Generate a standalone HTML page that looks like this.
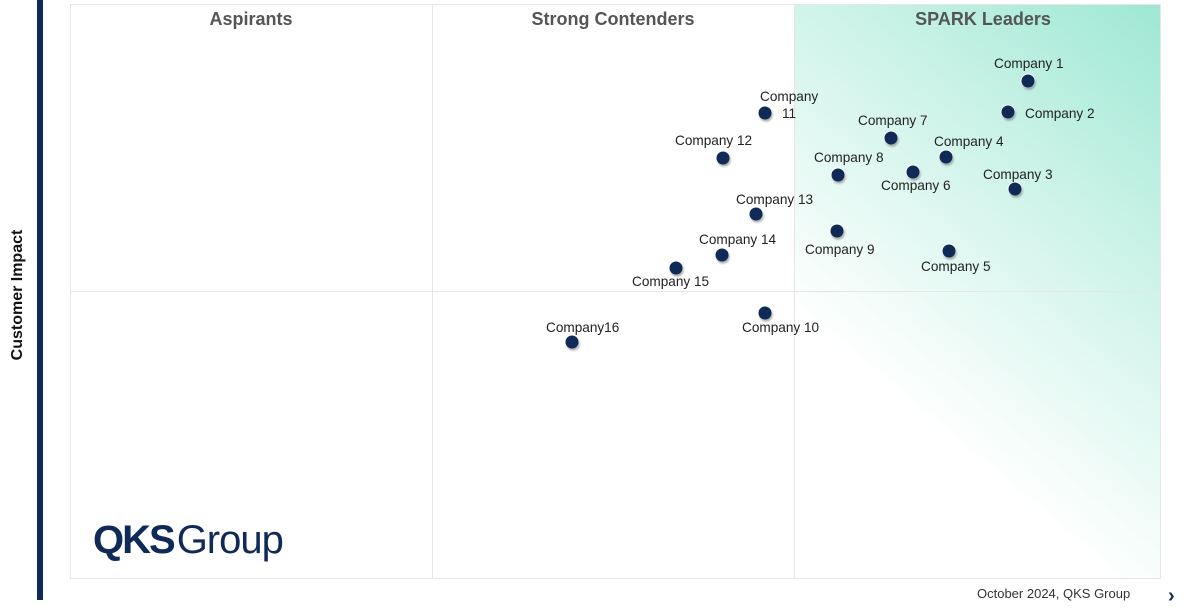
<!DOCTYPE html><html><head><style>
body{margin:0;width:1200px;height:600px;background:#fff;position:relative;overflow:hidden;font-family:"Liberation Sans",sans-serif}
.a{position:absolute}
.q{font-weight:bold;font-size:18px;color:#555;text-align:center;top:9px}
.d{position:absolute;width:13px;height:13px;border-radius:50%;background:#0f2a57;box-shadow:1px 2px 2px rgba(0,0,0,.35),0 0 0 1px #fff;transform:translate(-50%,-50%)}
.l{position:absolute;font-size:13.6px;color:#222;white-space:nowrap}
</style></head><body>
<div class="a" style="left:37px;top:0;width:6px;height:600px;background:#0f2a57"></div>
<div class="a" style="left:794px;top:4px;width:366px;height:574px;background:linear-gradient(220deg,#9ee8d3 0%,#c8f2e6 28%,#fff 70%)"></div>
<div class="a" style="left:70px;top:4px;width:1089px;height:573px;border:1px solid #e6e6e6"></div>
<div class="a" style="left:432px;top:4px;width:1px;height:574px;background:#e6e6e6"></div>
<div class="a" style="left:794px;top:4px;width:1px;height:574px;background:#e6e6e6"></div>
<div class="a" style="left:70px;top:291px;width:1090px;height:1px;background:#e6e6e6"></div>
<div class="a q" style="left:70px;width:362px">Aspirants</div>
<div class="a q" style="left:432px;width:362px">Strong Contenders</div>
<div class="a q" style="left:800px;width:366px">SPARK Leaders</div>
<div class="a" style="left:-62px;top:286px;width:160px;transform:rotate(-90deg);text-align:center;font-weight:bold;font-size:16px;color:#111">Customer Impact</div>
<div class="a" style="left:93px;top:518px;font-size:40px;color:#0f2a57;letter-spacing:-1px"><b style="letter-spacing:-2px">QKS</b><span style="margin-left:3px">Group</span></div>
<div class="a" style="left:977px;top:586px;font-size:13px;color:#333">October 2024, QKS Group</div>
<div class="a" style="left:1168px;top:585px;font-size:20px;color:#0f2a57;font-weight:bold">›</div>

<div class="d" style="left:1028px;top:81px"></div><div class="l" style="left:994px;top:56px">Company 1</div>
<div class="d" style="left:1008px;top:112px"></div><div class="l" style="left:1025px;top:106px">Company 2</div>
<div class="d" style="left:1015px;top:189px"></div><div class="l" style="left:983px;top:167px">Company 3</div>
<div class="d" style="left:946px;top:157px"></div><div class="l" style="left:934px;top:134px">Company 4</div>
<div class="d" style="left:949px;top:251px"></div><div class="l" style="left:921px;top:259px">Company 5</div>
<div class="d" style="left:913px;top:172px"></div><div class="l" style="left:881px;top:178px">Company 6</div>
<div class="d" style="left:891px;top:138px"></div><div class="l" style="left:858px;top:113px">Company 7</div>
<div class="d" style="left:838px;top:175px"></div><div class="l" style="left:814px;top:150px">Company 8</div>
<div class="d" style="left:837px;top:231px"></div><div class="l" style="left:805px;top:242px">Company 9</div>
<div class="d" style="left:765px;top:313px"></div><div class="l" style="left:742px;top:320px">Company 10</div>
<div class="d" style="left:765px;top:113px"></div><div class="l" style="left:760px;top:89px">Company</div><div class="l" style="left:782px;top:106px">11</div>
<div class="d" style="left:723px;top:158px"></div><div class="l" style="left:675px;top:133px">Company 12</div>
<div class="d" style="left:756px;top:214px"></div><div class="l" style="left:736px;top:192px">Company 13</div>
<div class="d" style="left:722px;top:255px"></div><div class="l" style="left:699px;top:232px">Company 14</div>
<div class="d" style="left:676px;top:268px"></div><div class="l" style="left:632px;top:274px">Company 15</div>
<div class="d" style="left:572px;top:342px"></div><div class="l" style="left:546px;top:320px">Company16</div>
</body></html>
